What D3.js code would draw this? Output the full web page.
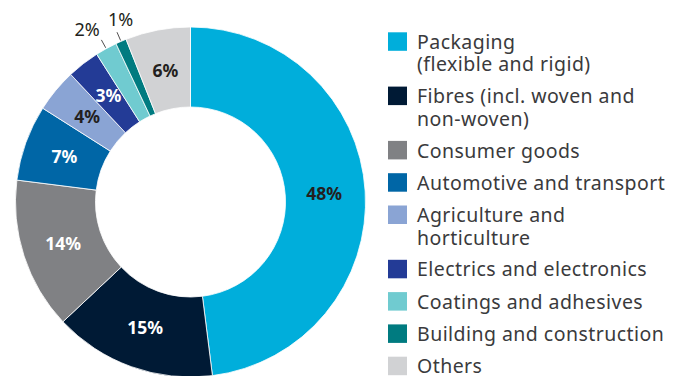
<!DOCTYPE html>
<html>
<head>
<meta charset="utf-8">
<script src="https://cdn.jsdelivr.net/npm/d3@7"></script>
<style>
    body {margin: 0; background: #fff;}
    svg {display: block;}
</style>
</head>
<body>
<div id="chart"></div>
<script>

//Data
var categories = [
    "Packaging|(flexible and rigid)",
    "Fibres (incl. woven and|non-woven)",
    "Consumer goods",
    "Automotive and transport",
    "Agriculture and|horticulture",
    "Electrics and electronics",
    "Coatings and adhesives",
    "Building and construction",
    "Others"
];
var shares = [48, 15, 14, 7, 4, 3, 2, 1, 6];
var colours = ["#00aedb", "#001a35", "#808184", "#0066a6", "#8aa4d4", "#233b96", "#70cbd0", "#007b80", "#d1d2d4"];
var label_colours = ["#231f20", "#fff", "#fff", "#fff", "#231f20", "#fff", "#231f20", "#231f20", "#231f20"];
var outside = [false, false, false, false, false, false, true, true, false];

var width = 683, height = 376;
var cx = 190.5, cy = 202;
var outer_r = 175, inner_r = 95;

var svg = d3.select("#chart").append("svg")
    .attr("width", width)
    .attr("height", height);

var data = categories.map(function(c, i) {
    return {name: c, value: shares[i], colour: colours[i], label_colour: label_colours[i], outside: outside[i]};
});

var pie = d3.pie()
    .value(function(d) {return d.value;})
    .sort(null);

var arc = d3.arc()
    .innerRadius(inner_r)
    .outerRadius(outer_r);

var label_arc = d3.arc()
    .innerRadius(134)
    .outerRadius(134);

var g = svg.append("g")
    .attr("transform", "translate(" + cx + "," + cy + ")");

var arcs = pie(data);

//Slices
g.selectAll("path.slice")
    .data(arcs)
    .enter().append("path")
    .attr("class", "slice")
    .attr("d", arc)
    .attr("fill", function(d) {return d.data.colour;})
    .attr("stroke", "#fff")
    .attr("stroke-width", 0.8);

//Labels inside the ring
g.selectAll("text.inner")
    .data(arcs.filter(function(d) {return !d.data.outside;}))
    .enter().append("text")
    .attr("class", "inner")
    .attr("transform", function(d) {return "translate(" + label_arc.centroid(d) + ")";})
    .attr("text-anchor", "middle")
    .attr("dy", "0.36em")
    .attr("font-family", "'Noto Sans', sans-serif")
    .attr("font-weight", "bold")
    .attr("font-size", 17.5)
    .attr("fill", function(d) {return d.data.label_colour;})
    .text(function(d) {return d.data.value + "%";});

//Small slices get a leader line and a label outside
function polar(a, r) {
    return [r * Math.sin(a), -r * Math.cos(a)];
}

var small = arcs.filter(function(d) {return d.data.outside;});

g.selectAll("line.leader")
    .data(small)
    .enter().append("line")
    .attr("class", "leader")
    .each(function(d) {
        var a = (d.startAngle + d.endAngle) / 2;
        var p0 = polar(a, outer_r + 1), p1 = polar(a, outer_r + 10);
        d3.select(this)
            .attr("x1", p0[0]).attr("y1", p0[1])
            .attr("x2", p1[0]).attr("y2", p1[1]);
    })
    .attr("stroke", "#231f20")
    .attr("stroke-width", 0.8);

g.selectAll("text.outer")
    .data(small)
    .enter().append("text")
    .attr("class", "outer")
    .attr("transform", function(d) {
        var a = (d.startAngle + d.endAngle) / 2;
        //spread the two small labels apart a little so they don't collide
        if(d.data.value == 2) return "translate(" + polar(a - 0.038, 201) + ")";
        return "translate(" + polar(a + 0.042, 195) + ")";
    })
    .attr("text-anchor", "middle")
    .attr("dy", "0.36em")
    .attr("font-family", "'Noto Sans', sans-serif")
    .attr("font-size", 18)
    .attr("fill", "#231f20")
    .text(function(d) {return d.data.value + "%";});

//Legend
var legend = svg.append("g")
    .attr("transform", "translate(388,0)");

var y = 32.3;
data.forEach(function(d) {
    var lines = d.name.split("|");

    legend.append("rect")
        .attr("x", 0)
        .attr("y", y)
        .attr("width", 19)
        .attr("height", 18.5)
        .attr("fill", d.colour);

    var t = legend.append("text")
        .attr("x", 29)
        .attr("y", y + 16.6)
        .attr("font-family", "'Noto Sans', sans-serif")
        .attr("font-size", 19.5)
        .attr("letter-spacing", 0.45)
        .attr("fill", "#3a3a3c");

    lines.forEach(function(l, i) {
        t.append("tspan")
            .attr("x", 29)
            .attr("dy", i == 0 ? 0 : 22.5)
            .text(l);
    });

    y += 32.3 + (lines.length - 1) * 22;
});

</script>
</body>
</html>
